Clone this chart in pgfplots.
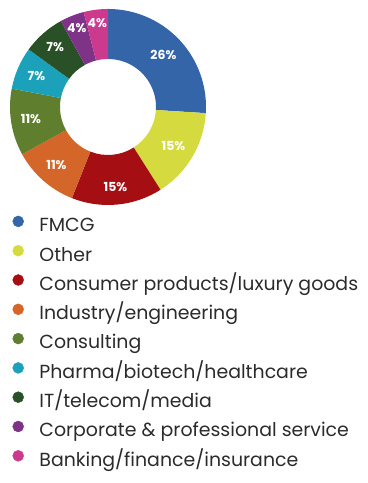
\documentclass[border=0pt]{standalone}
\usepackage{fontspec}
\setmainfont{Poppins}
\usepackage{pgfplots}
\usepackage{pgfplotstable}
\pgfplotsset{compat=1.18}
\definecolor{cFMCG}{HTML}{3465A8}
\definecolor{cOther}{HTML}{D5DB3F}
\definecolor{cCons}{HTML}{A50F14}
\definecolor{cInd}{HTML}{D4662A}
\definecolor{cConsult}{HTML}{5F7F2E}
\definecolor{cPharma}{HTML}{1BA2BA}
\definecolor{cIT}{HTML}{2A5028}
\definecolor{cCorp}{HTML}{7E3388}
\definecolor{cBank}{HTML}{CC3A8E}
\definecolor{txt}{HTML}{2B2B2B}
\pgfplotstableread[col sep=comma]{
name,value,color,lr
FMCG,26,cFMCG,76
Other,15,cOther,76
Consumer products/luxury goods,15,cCons,80
Industry/engineering,11,cInd,78
Consulting,11,cConsult,78
Pharma/biotech/healthcare,7,cPharma,78
IT/telecom/media,7,cIT,80
Corporate \& professional service,4,cCorp,85
Banking/finance/insurance,4,cBank,85
}\piedata
\newcommand\labfont{\fontsize{12.5}{13}\selectfont\bfseries}
\begin{document}
\begin{tikzpicture}
\begin{axis}[
  x=1bp, y=1bp, xmin=0, xmax=367, ymin=0, ymax=483,
  scale only axis, hide axis, clip=false,
  legend style={
    at={(axis cs:12.5,267.3)}, anchor=north west,
    draw=none, fill=none, inner sep=0pt, outer sep=0pt,
    font=\fontsize{19}{20}\selectfont\color{txt},
    row sep=8.2bp,
    nodes={inner sep=0pt, outer sep=0pt, text height=14bp, text depth=5bp},
    /tikz/every odd column/.append style={column sep=15.5bp},
  },
  legend cell align=left,
  legend image code/.code={\fill[#1] (5.5bp,5.9bp) circle (5.5bp);},
]
\path (axis cs:0,0) rectangle (axis cs:367,483);
\def\cx{108}\def\cy{376}\def\R{98}\def\r{48}
\def\cum{0}
\pgfplotsforeachungrouped \i in {0,...,8}{%
  \pgfplotstablegetelem{\i}{value}\of\piedata \let\val\pgfplotsretval
  \pgfplotstablegetelem{\i}{color}\of\piedata \let\col\pgfplotsretval
  \pgfplotstablegetelem{\i}{name}\of\piedata \let\nam\pgfplotsretval
  \pgfplotstablegetelem{\i}{lr}\of\piedata \let\lr\pgfplotsretval
  \pgfmathsetmacro{\a}{90-3.6*\cum}%
  \pgfmathsetmacro{\b}{90-3.6*(\cum+\val)}%
  \pgfmathsetmacro{\m}{(\a+\b)/2}%
  \pgfmathsetmacro{\xa}{\cx+\R*cos(\a)}%
  \pgfmathsetmacro{\ya}{\cy+\R*sin(\a)}%
  \pgfmathsetmacro{\xb}{\cx+\r*cos(\b)}%
  \pgfmathsetmacro{\yb}{\cy+\r*sin(\b)}%
  \pgfmathsetmacro{\xm}{\cx+\lr*cos(\m)}%
  \pgfmathsetmacro{\ym}{\cy+\lr*sin(\m)}%
  \edef\temp{%
    \noexpand\fill[\col] (axis cs:\xa,\ya) arc[start angle=\a, end angle=\b, radius=\R bp]
      -- (axis cs:\xb,\yb) arc[start angle=\b, end angle=\a, radius=\r bp] -- cycle;
    \noexpand\node[text=white, font=\noexpand\labfont, inner sep=0pt] at (axis cs:\xm,\ym) {\val\noexpand\%};
    \noexpand\addlegendimage{\col}
    \noexpand\addlegendentry{\nam}
  }%
  \temp
  \pgfmathsetmacro{\cum}{\cum+\val}%
}
\end{axis}
\end{tikzpicture}
\end{document}
